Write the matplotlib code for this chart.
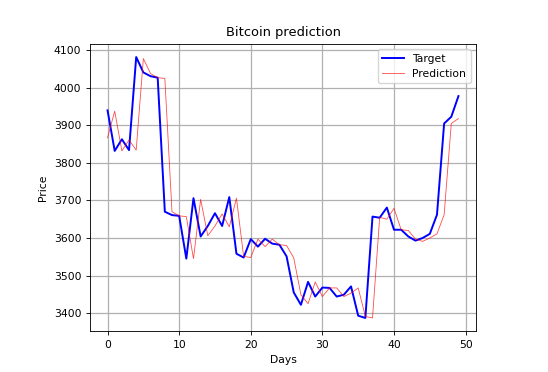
import matplotlib
matplotlib.use("Agg")
import matplotlib.pyplot as plt
import numpy as np

# values
days = np.arange(50)
target = [3940, 3832, 3863, 3834, 4082, 4041, 4031, 4027, 3670, 3661,
          3659, 3545, 3706, 3604, 3632, 3666, 3632, 3709, 3558, 3548,
          3597, 3577, 3598, 3585, 3582, 3551, 3455, 3422, 3483, 3444,
          3468, 3467, 3444, 3449, 3471, 3393, 3387, 3657, 3654, 3681,
          3622, 3622, 3604, 3593, 3600, 3611, 3662, 3905, 3923, 3978]
prediction = [3867, 3938, 3832, 3861, 3834, 4078, 4038, 4027, 4025, 3670,
              3659, 3657, 3545, 3703, 3606, 3632, 3664, 3630, 3706, 3551,
              3548, 3597, 3577, 3597, 3582, 3580, 3547, 3449, 3425, 3483,
              3444, 3467, 3467, 3444, 3453, 3467, 3391, 3387, 3655, 3650,
              3679, 3622, 3620, 3597, 3591, 3600, 3611, 3662, 3905, 3918]

s = 0.778  # original was rendered at a lower dpi
plt.rcParams["font.size"] = 10 * s
plt.rcParams["axes.linewidth"] = 0.8 * s
plt.rcParams["xtick.major.size"] = 3.5 * s
plt.rcParams["ytick.major.size"] = 3.5 * s
plt.rcParams["xtick.major.width"] = 0.8 * s
plt.rcParams["ytick.major.width"] = 0.8 * s

fig = plt.figure(figsize=(5.48, 3.72), dpi=100)
ax = fig.add_axes([90 / 548, 41 / 372, 386 / 548, 287 / 372])

ax.plot(days, target, color="blue", lw=1.4, label="Target")
ax.plot(days, prediction, color="red", lw=0.6, alpha=0.7, label="Prediction")

ax.set_title("Bitcoin prediction")
ax.set_xlabel("Days")
ax.set_ylabel("Price")
ax.grid(True, lw=0.9)
ax.legend(loc="upper right")

fig.savefig("out.png", dpi=100)
